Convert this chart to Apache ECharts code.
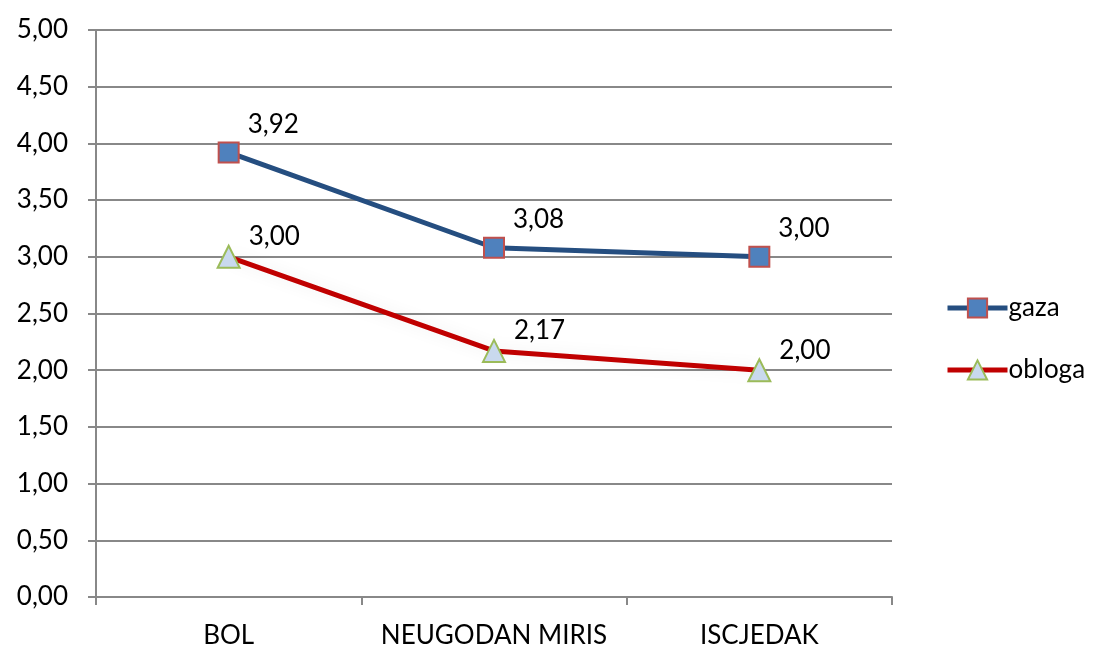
<!DOCTYPE html>
<html><head><meta charset="utf-8">
<script src="https://cdn.jsdelivr.net/npm/echarts@6/dist/echarts.min.js"></script>
<style>html,body{margin:0;padding:0;background:#fff}#c{width:1099px;height:650px}</style>
</head><body><div id="c"></div>
<script>
const categories = ['BOL', 'NEUGODAN MIRIS', 'ISCJEDAK'];
const gaza = [3.92, 3.08, 3.00];
const obloga = [3.00, 2.17, 2.00];
const yTicks = [0, 0.5, 1, 1.5, 2, 2.5, 3, 3.5, 4, 4.5, 5];

const fmt = v => v.toFixed(2).replace('.', ',');
const font = 'Lato, "Open Sans", sans-serif';
const FS = 26;
const chart = echarts.init(document.getElementById('c'));
const mkLabel = (off) => ({
  show: true, position: 'right', offset: off,
  fontSize: FS, fontFamily: font, color: '#000',
  formatter: p => fmt(p.value)
});
chart.setOption({
  animation: false,
  grid: { left: 96, right: 207, top: 30, bottom: 53, containLabel: false },
  legend: {
    orient: 'vertical', left: 940, top: 290, itemWidth: 60, itemHeight: 24, itemGap: 36,
    textStyle: { fontSize: FS, fontFamily: font, color: '#000', padding: [0, 0, 0, -4] },
    data: [
      { name: 'gaza', lineStyle: { width: 5 } },
      { name: 'obloga', lineStyle: { width: 5 } }
    ]
  },
  xAxis: {
    type: 'category', data: categories, boundaryGap: true,
    axisLine: { lineStyle: { color: '#888', width: 2 } },
    axisTick: { show: true, length: 8, lineStyle: { color: '#888', width: 2 } },
    axisLabel: { interval: 0, hideOverlap: false, fontSize: FS, fontFamily: font, color: '#000', margin: 26 }
  },
  yAxis: {
    type: 'value', min: 0, max: 5, interval: 0.5,
    axisLine: { show: true, lineStyle: { color: '#888', width: 2 } },
    axisTick: { show: true, length: 8, lineStyle: { color: '#888', width: 2 } },
    splitLine: { lineStyle: { color: '#888', width: 2 } },
    axisLabel: { fontSize: FS, fontFamily: font, color: '#000', margin: 28, formatter: v => fmt(v) }
  },
  series: [
    {
      name: 'gaza', type: 'line', data: gaza,
      symbol: 'rect', symbolSize: 20,
      lineStyle: { color: '#254E80', width: 5 },
      itemStyle: { color: '#4F81BD', borderColor: '#C0504D', borderWidth: 2 },
      label: mkLabel([3, -28]), z: 3
    },
    {
      name: 'obloga', type: 'line', data: obloga,
      symbol: 'triangle', symbolSize: 22,
      lineStyle: { color: '#C00000', width: 5, shadowColor: 'rgba(0,0,0,0.08)', shadowBlur: 16 },
      itemStyle: { color: '#C9D9EE', borderColor: '#9BBB59', borderWidth: 2 },
      label: mkLabel([3, -20]), z: 2
    }
  ]
});
</script></body></html>
